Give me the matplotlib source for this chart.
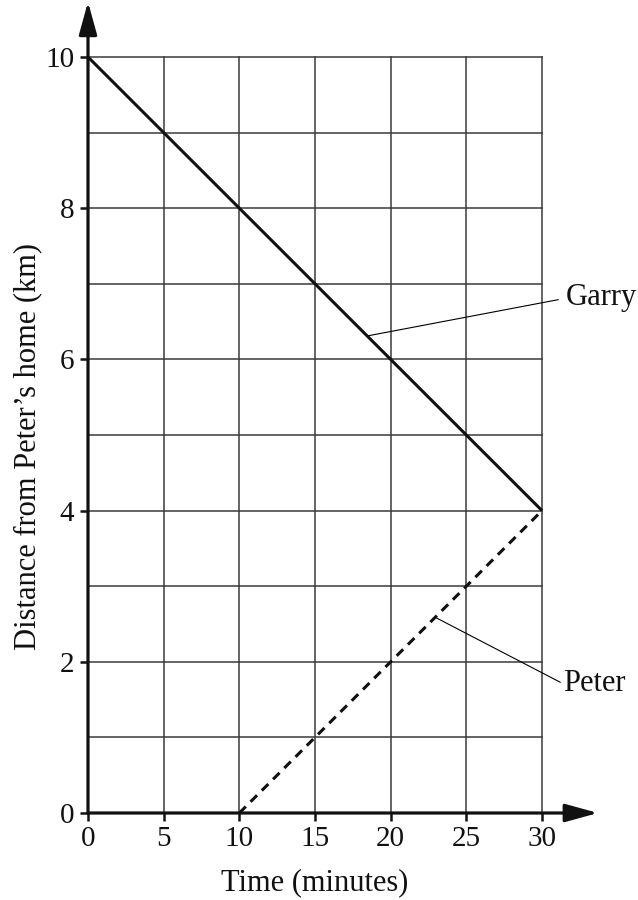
import matplotlib
matplotlib.use("Agg")
import matplotlib.pyplot as plt

plt.rcParams['font.family'] = ['Liberation Serif', 'DejaVu Serif']

# Data
garry_time = [0, 30]
garry_dist = [10, 4]
peter_time = [10, 30]
peter_dist = [0, 4]
x_ticks = [0, 5, 10, 15, 20, 25, 30]
y_ticks = [0, 2, 4, 6, 8, 10]
x_grid = [5, 10, 15, 20, 25, 30]
y_grid = [1, 2, 3, 4, 5, 6, 7, 8, 9, 10]

fig = plt.figure(figsize=(6.38, 9.0), dpi=100)
ax = fig.add_axes([88/638, 1-813/900, (542-88)/638, (813-57)/900])
ax.set_xlim(0, 30)
ax.set_ylim(0, 10)

gridc = '#3a3a3a'
for gx in x_grid:
    ax.plot([gx, gx], [0, 10], color=gridc, lw=1.1, zorder=1, clip_on=False)
for gy in y_grid:
    ax.plot([0, 30], [gy, gy], color=gridc, lw=1.1, zorder=1, clip_on=False)

ax.plot(garry_time, garry_dist, color='#111111', lw=2.2, zorder=3,
        solid_capstyle='butt', clip_on=False)
ax.plot(peter_time, peter_dist, color='#111111', lw=2.2, zorder=3,
        linestyle=(0, (3.0, 2.2)), clip_on=False)

# Leader lines and labels
ax.plot([18.45, 31.07], [6.31, 6.79], color='black', lw=0.8, zorder=2, clip_on=False)
ax.text(31.55, 6.82, 'Garry', fontsize=22, va='center', ha='left', color='#111111')
ax.plot([22.93, 31.2], [2.59, 1.73], color='black', lw=0.8, zorder=2, clip_on=False)
ax.text(31.4, 1.71, 'Peter', fontsize=22, va='center', ha='left', color='#111111')

# Axes
for s in ['top', 'right', 'left', 'bottom']:
    ax.spines[s].set_visible(False)
ax.annotate('', xy=(0, 10.73), xytext=(0, 0),
            arrowprops=dict(arrowstyle='-|>,head_length=2.0,head_width=0.55',
                            lw=2.3, color='#111111', mutation_scale=10,
                            shrinkA=0, shrinkB=0), annotation_clip=False, zorder=4)
ax.annotate('', xy=(33.7, 0), xytext=(0, 0),
            arrowprops=dict(arrowstyle='-|>,head_length=2.0,head_width=0.55',
                            lw=2.3, color='#111111', mutation_scale=10,
                            shrinkA=0, shrinkB=0), annotation_clip=False, zorder=4)

ax.set_xticks(x_ticks)
ax.set_yticks(y_ticks)
ax.set_xticklabels([str(v) for v in x_ticks])
ax.set_yticklabels([str(v) for v in y_ticks])
ax.tick_params(axis='both', direction='out', length=6, width=1.8, colors='#111111',
               labelsize=21)
ax.tick_params(axis='x', pad=3)
ax.tick_params(axis='y', pad=4)

ax.set_xlabel('Time (minutes)', fontsize=22, color='#111111', labelpad=12)
ax.set_ylabel('Distance from Peter\u2019s home (km)', fontsize=22, color='#111111', labelpad=6)
ax.yaxis.set_label_coords(-0.10, 0.485)
ax.patch.set_visible(False)

fig.savefig('out.png', dpi=100)
